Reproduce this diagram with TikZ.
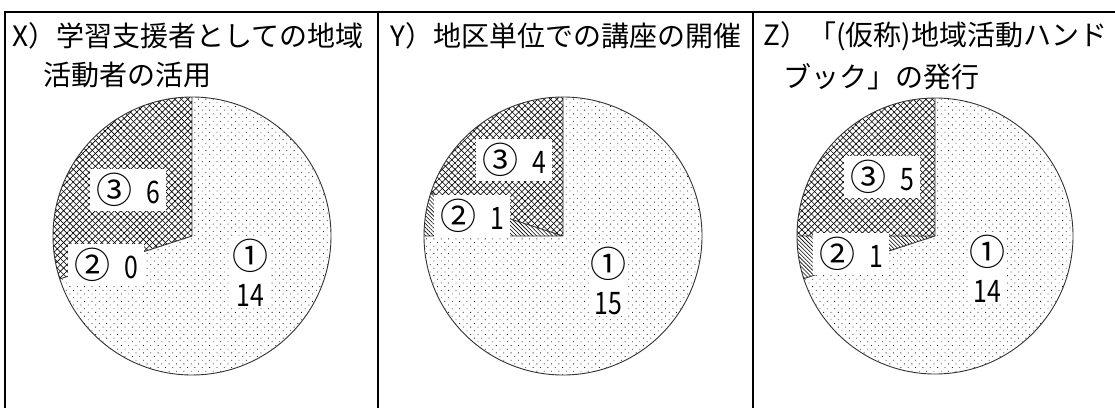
\documentclass[tikz,border=0pt]{standalone}
\usepackage{graphicx}
\usepackage{fontspec}
\setmainfont{Noto Sans CJK JP}
\usetikzlibrary{patterns.meta,positioning}

\newcommand{\maru}[1]{{\fontsize{36pt}{36pt}\selectfont #1}}
\newcommand{\kazu}[1]{\scalebox{0.8}[1]{#1}}

\begin{document}
\begin{tikzpicture}[x=1pt,y=1pt]
  \tikzstyle{title}=[anchor=west,inner sep=0pt,font=\fontsize{28pt}{30pt}\selectfont]
  \tikzstyle{count}=[fill=white,inner xsep=6pt,inner ysep=3pt,align=center,font=\fontsize{31pt}{40pt}\selectfont]
  \tikzstyle{dots}=[pattern={Dots[radius=0.6pt,distance=5.2pt,angle=45]},pattern color=black!85]
  \tikzstyle{hatch}=[pattern={Lines[angle=-45,distance=2.8pt,line width=0.6pt]}]
  \tikzstyle{crossa}=[pattern={Lines[angle=45,distance=4.5pt,line width=0.65pt]}]
  \tikzstyle{crossb}=[pattern={Lines[angle=-45,distance=4.5pt,line width=0.65pt]}]
  \tikzstyle{rim}=[draw=black!80,line width=0.9pt]

  \useasboundingbox (0,0) rectangle (1115,408);

  % frame
  \draw[line width=2pt] (4,396) -- (1115,396);
  \foreach \x in {5,378,753}
    \draw[line width=2pt] (\x,397) -- (\x,0);

  % pies: name/centre/radius/start of 1/start of 2
  \foreach \name/\x/\r/\a/\b in {X/192/139/198/198, Y/563/139/180/162,
                                 Z/935/138/198/180}
  {
    \coordinate (\name-c) at (\x,172);
    \fill[dots] (\name-c) -- ++(\a:\r) arc[start angle=\a,end angle=450,radius=\r] -- cycle;
    \fill[hatch] (\name-c) -- ++(\b:\r) arc[start angle=\b,end angle=\a,radius=\r] -- cycle;
    \fill[crossa] (\name-c) -- ++(90:\r) arc[start angle=90,end angle=\b,radius=\r] -- cycle;
    \fill[crossb] (\name-c) -- ++(90:\r) arc[start angle=90,end angle=\b,radius=\r] -- cycle;
    \draw[rim] (\name-c) circle[radius=\r];
    \draw[rim] (\name-c) -- ++(90:\r) (\name-c) -- ++(\a:\r) (\name-c) -- ++(\b:\r);
  }

  % counts
  \foreach \name/\x/\y/\text in {X-3/128/218/{\maru{③}\hspace{.45em}\kazu{6}}, X-2/106/143/{\maru{②}\hspace{.45em}\kazu{0}},
                                 Y-3/514/248/{\maru{③}\hspace{.45em}\kazu{4}}, Y-2/472/192/{\maru{②}\hspace{.45em}\kazu{1}},
                                 Z-3/882/231/{\maru{③}\hspace{.45em}\kazu{5}}, Z-2/851/154/{\maru{②}\hspace{.45em}\kazu{1}}}
    \node[count,minimum height=42pt] (\name) at (\x,\y) {\text};
  \foreach \name/\x/\y/\text in {X-1/250/135/14, Y-1/608/127/15, Z-1/987/139/14}
    \node[count,inner sep=1pt] (\name) at (\x,\y) {\maru{①}\\[-3pt]\kazu{\text}};

  % titles
  \node[title] (X-t1) at (12,372) {X）学習支援者としての地域};
  \node[title] (X-t2) at (43,333) {活動者の活用};
  \node[title] (Y-t1) at (390,372) {Y）地区単位での講座の開催};
  \node[title] (Z-t1) at (763,372) {Z）「(仮称)地域活動ハンド};
  \node[title] (Z-t2) at (783,331) {ブック」の発行};
\end{tikzpicture}
\end{document}
